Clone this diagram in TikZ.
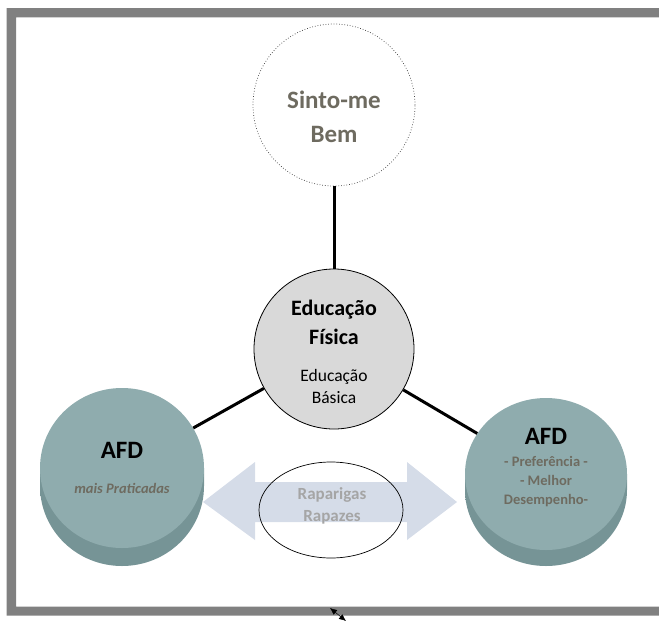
\documentclass[tikz,border=0pt]{standalone}
\usepackage{fontspec}
\setmainfont{Carlito}
\usepackage{tikz}
\usetikzlibrary{shapes.geometric, arrows.meta}
\usepackage{xcolor}
\definecolor{frameGray}{RGB}{128,128,128}
\definecolor{eduGray}{RGB}{217,217,217}
\definecolor{afdTop}{RGB}{143,172,174}
\definecolor{afdSideD}{RGB}{118,148,150}
\definecolor{afdSideL}{RGB}{152,180,182}
\definecolor{subGray}{RGB}{110,107,96}
\definecolor{rapGray}{RGB}{165,165,165}
\definecolor{arrowBlue}{RGB}{213,220,232}

\begin{document}
\begin{tikzpicture}[x=1pt, y=-1pt,
  bubble/.style={circle, minimum size=162pt, inner sep=0pt},
  afdtop/.style={ellipse, fill=afdTop, inner sep=0pt},
  link/.style={line width=3pt},
  afdside/.style={left color=afdSideD, middle color=afdSideL, right color=afdSideD}]

  % Fix the page size
  \useasboundingbox (0,0) rectangle (659,622);

  % Draw the frame (open on the right)
  \fill[frameGray] (659,8) -- (6.5,8) -- (6.5,615.5) -- (659,615.5) -- (659,606.5) -- (16,606.5) -- (16,17.3) -- (659,17.3) -- cycle;

  % Draw the two cylinders
  \shade[afdside] (40,468) rectangle (204,486) (122,486) ellipse [x radius=82pt, y radius=80pt];
  \node[afdtop, minimum width=164pt, minimum height=160pt] (afdL) at (122,468) {};
  \shade[afdside] (465,474) rectangle (627,490) (546,490) ellipse [x radius=81pt, y radius=76pt];
  \node[afdtop, minimum width=162pt, minimum height=152pt] (afdR) at (546,474) {};

  % Draw the circles
  \node[bubble, draw=black!80, dotted, line width=0.7pt] (sinto) at (334,105) {};
  \node[bubble, draw, fill=eduGray, line width=0.8pt, minimum size=160pt] (edu) at (334,349) {};

  % Draw the double arrow and the ellipse
  \fill[arrowBlue] (203,502) -- (255,462) -- (255,482) -- (407,482) -- (407,462) -- (457,502)
    -- (407,540) -- (407,522) -- (255,522) -- (255,540) -- cycle;
  \node[ellipse, draw, line width=0.7pt, minimum width=144pt, minimum height=96pt, inner sep=0pt] (rap) at (331,510) {};

  % Connect the circles
  \draw[link] (sinto) -- (edu);
  \draw[link] (edu) -- (afdL);
  \draw[link] (edu) -- (afdR);

  % Label the shapes
  \node[text=subGray, align=center, font=\fontsize{25}{34}\selectfont\bfseries] (sintoTxt) at (334,116.5) {Sinto-me\\Bem};
  \node[align=center, font=\fontsize{22}{29}\selectfont\bfseries] (eduTitle) at (334,322) {Educação\\Física};
  \node[align=center, font=\fontsize{17.5}{22}\selectfont] (eduSub) at (334,386) {Educação\\Básica};
  \node[font=\fontsize{25}{29}\selectfont\bfseries] (afdLTxt) at (122,450) {AFD};
  \node[text=subGray, font=\fontsize{14.5}{18}\selectfont\bfseries\itshape] (afdLSub) at (122,488) {mais Praticadas};
  \node[font=\fontsize{25}{29}\selectfont\bfseries] (afdRTxt) at (546,436) {AFD};
  \node[text=subGray, align=center, font=\fontsize{14.5}{19}\selectfont\bfseries] (afdRSub) at (546,482) {- Preferência -\\- Melhor\\Desempenho-};
  \node[text=rapGray, align=center, font=\fontsize{17}{22}\selectfont\bfseries] (rapTxt) at (332,505.5) {Raparigas\\Rapazes};

  % Small double arrow on the bottom edge
  \coordinate (tA) at (330,608);
  \coordinate (tB) at (346,621);
  \draw[{Latex[length=7pt,width=6pt]}-{Latex[length=7pt,width=6pt]}, line width=0.5pt] (tA) -- (tB);
\end{tikzpicture}
\end{document}
